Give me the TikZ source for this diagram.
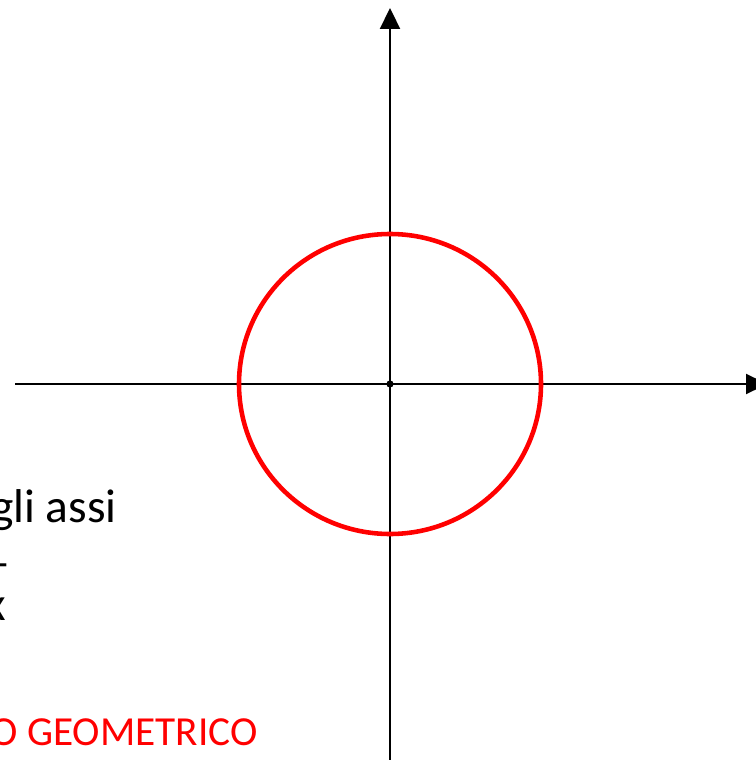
\documentclass[tikz,border=0pt]{standalone}
\usepackage{fontspec}
\setmainfont{Carlito}
\usepackage{tikz}
\usetikzlibrary{arrows.meta}
\definecolor{luogored}{HTML}{FF0000}

\begin{document}
\begin{tikzpicture}[x=0.02cm,y=-0.02cm,>={Triangle[length=0.42cm,width=0.4cm]},
  axis/.style={line width=1.3pt,->},
  curve/.style={draw=luogored,line width=2.6pt},
  note/.style={font=\fontsize{27}{32}\selectfont,inner sep=0pt,anchor=base east},
  tag/.style={font=\fontsize{23.5}{28}\selectfont,text=luogored,inner sep=0pt,anchor=base east}]
  \useasboundingbox (0,0) rectangle (755,760);
  \coordinate (O) at (390,384);
  \coordinate (W) at (15,384);
  \coordinate (E) at (767,384);
  \coordinate (S) at (390,765);
  \coordinate (N) at (390,8);
  % assi
  \draw[axis] (W)--(E);
  \draw[axis] (S)--(N);
  \fill (O) circle (3.6);
  % circonferenza
  \draw[curve] (O) circle [x radius=151,y radius=150];
  % testo tagliato a sinistra
  \node[note] (assi) at (117,522) {agli assi};
  \node[note] (riga2) at (10,578) {--};
  \node[note] (riga3) at (6,620) {x};
  \node[tag] (luogo) at (258,745) {LUOGO GEOMETRICO};
\end{tikzpicture}
\end{document}
